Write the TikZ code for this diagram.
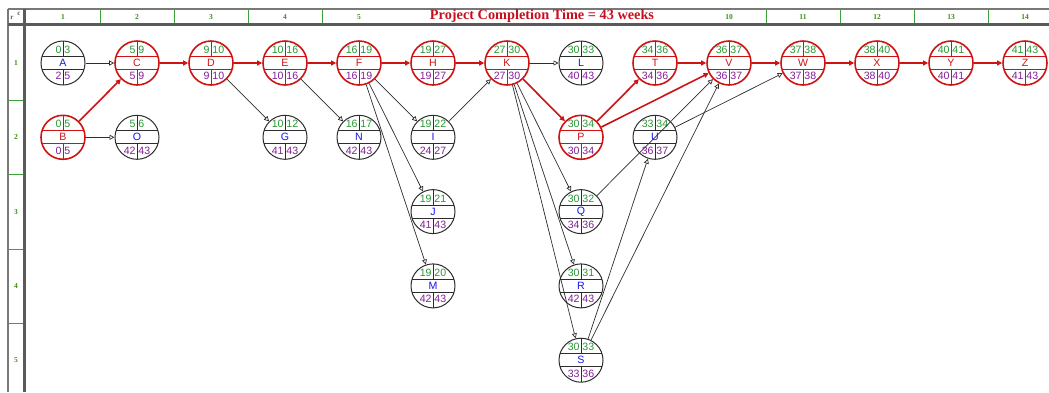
\documentclass[tikz,border=0pt]{standalone}
\usepackage{fontspec}
\setmainfont{Liberation Sans}
\newfontfamily\titlefont{Liberation Serif}
\usetikzlibrary{arrows.meta}

\definecolor{critred}{RGB}{205,20,20}
\definecolor{titlered}{RGB}{200,15,30}
\definecolor{estgreen}{RGB}{40,150,50}
\definecolor{lstpurple}{RGB}{130,30,150}
\definecolor{actblue}{RGB}{20,20,235}
\definecolor{framegray}{RGB}{120,120,120}
\definecolor{framedark}{RGB}{90,90,90}
\definecolor{gridgreen}{RGB}{60,160,60}
\definecolor{labelgreen}{RGB}{60,140,20}
\definecolor{edgegray}{RGB}{45,45,45}

\tikzset{
  crit circle/.style={circle, draw=critred, line width=1.6pt, minimum size=44pt, inner sep=0pt},
  norm circle/.style={circle, draw=edgegray, line width=1pt, minimum size=44pt, inner sep=0pt},
  crit inner/.style={draw=critred, line width=0.8pt},
  norm inner/.style={draw=edgegray, line width=0.9pt},
  crit name/.style={text=critred},
  norm name/.style={text=actblue},
  num/.style={inner sep=0pt, font=\fontsize{10.6}{11}\selectfont},
  critedge/.style={draw=critred, line width=1.6pt, -{Triangle[length=5pt,width=5pt]}},
  normedge/.style={draw=edgegray, line width=0.7pt, -{Triangle[open,length=5pt,width=5pt]}},
  collabel/.style={inner sep=0pt, text=labelgreen, font=\titlefont\bfseries\fontsize{7.5}{8}\selectfont},
  corner/.style={inner sep=0pt, text=framedark, font=\titlefont\bfseries\fontsize{7}{7}\selectfont},
}

% activity circle: id, column, row, ES, EF, LS, LF, kind (crit / norm)
\newcommand\actnode[8]{%
  \begin{scope}[shift={({63+74*(#2-1)},{63+74.3*(#3-1)})}]
    \node[#8 circle] (#1) at (0,0) {};
    \draw[#8 inner] (-21,-6.5) -- (21,-6.5) (-21,6.5) -- (21,6.5)
                    (0,-22) -- (0,-6.5) (0,6.5) -- (0,22);
    \node[num, text=estgreen, anchor=east] (#1-es) at (-1.2,-13.2) {#4};
    \node[num, text=estgreen, anchor=west] (#1-ef) at (1.2,-13.2) {#5};
    \node[num, #8 name] (#1-name) at (0,0) {#1};
    \node[num, text=lstpurple, anchor=east] (#1-ls) at (-1.2,13.2) {#6};
    \node[num, text=lstpurple, anchor=west] (#1-lf) at (1.2,13.2) {#7};
  \end{scope}}

\begin{document}
\begin{tikzpicture}[x=1pt, y=-1pt]
  \useasboundingbox (0,0) rectangle (1049,392);

  % frame: header band and row column
  \draw[framegray, line width=1.2pt] (8,9) -- (1049,9);
  \draw[framegray, line width=1.2pt] (8,9) -- (8,392);
  \draw[framedark, line width=2.4pt] (8,24.5) -- (1049,24.5);
  \draw[framedark, line width=2.4pt] (24.5,9) -- (24.5,392);

  \foreach \k in {1,2,3,4,10,11,12,13}
    \draw[gridgreen, line width=0.8pt] ({26+74*\k},10) -- ({26+74*\k},23);
  \foreach \k in {1,2,3,4,5,10,11,12,13,14}
    \node[collabel] (col\k) at ({63+74*(\k-1)},17.5) {\k};
  \foreach \k in {1,2,3,4}
    \draw[gridgreen, line width=0.8pt] (9,{26+74.3*\k}) -- (23,{26+74.3*\k});
  \foreach \k in {1,...,5}
    \node[collabel] (row\k) at (16,{63+74.3*(\k-1)}) {\k};
  \node[corner] (rmark) at (12,18) {r};
  \node[corner] (cmark) at (19,13.5) {c};

  \node[text=titlered, inner sep=0pt, font=\titlefont\bfseries\fontsize{14.3}{15}\selectfont]
    (title) at (542,16.5) {Project Completion Time = 43 weeks};

  % activities
  \actnode{A}{1}{1}{0}{3}{2}{5}{norm}
  \actnode{B}{1}{2}{0}{5}{0}{5}{crit}
  \actnode{C}{2}{1}{5}{9}{5}{9}{crit}
  \actnode{O}{2}{2}{5}{6}{42}{43}{norm}
  \actnode{D}{3}{1}{9}{10}{9}{10}{crit}
  \actnode{E}{4}{1}{10}{16}{10}{16}{crit}
  \actnode{G}{4}{2}{10}{12}{41}{43}{norm}
  \actnode{F}{5}{1}{16}{19}{16}{19}{crit}
  \actnode{N}{5}{2}{16}{17}{42}{43}{norm}
  \actnode{H}{6}{1}{19}{27}{19}{27}{crit}
  \actnode{I}{6}{2}{19}{22}{24}{27}{norm}
  \actnode{J}{6}{3}{19}{21}{41}{43}{norm}
  \actnode{M}{6}{4}{19}{20}{42}{43}{norm}
  \actnode{K}{7}{1}{27}{30}{27}{30}{crit}
  \actnode{L}{8}{1}{30}{33}{40}{43}{norm}
  \actnode{P}{8}{2}{30}{34}{30}{34}{crit}
  \actnode{Q}{8}{3}{30}{32}{34}{36}{norm}
  \actnode{R}{8}{4}{30}{31}{42}{43}{norm}
  \actnode{S}{8}{5}{30}{33}{33}{36}{norm}
  \actnode{T}{9}{1}{34}{36}{34}{36}{crit}
  \actnode{U}{9}{2}{33}{34}{36}{37}{norm}
  \actnode{V}{10}{1}{36}{37}{36}{37}{crit}
  \actnode{W}{11}{1}{37}{38}{37}{38}{crit}
  \actnode{X}{12}{1}{38}{40}{38}{40}{crit}
  \actnode{Y}{13}{1}{40}{41}{40}{41}{crit}
  \actnode{Z}{14}{1}{41}{43}{41}{43}{crit}

  % non-critical precedences
  \foreach \a/\b in {A/C, B/O, D/G, E/N, F/I, F/J, F/M, I/K, K/L, K/Q, K/R, K/S, Q/V, S/U, S/V, U/W}
    \draw[normedge] (\a) -- (\b);

  % critical path
  \foreach \a/\b in {B/C, C/D, D/E, E/F, F/H, H/K, K/P, P/T, P/V, T/V, V/W, W/X, X/Y, Y/Z}
    \draw[critedge] (\a) -- (\b);
\end{tikzpicture}
\end{document}
